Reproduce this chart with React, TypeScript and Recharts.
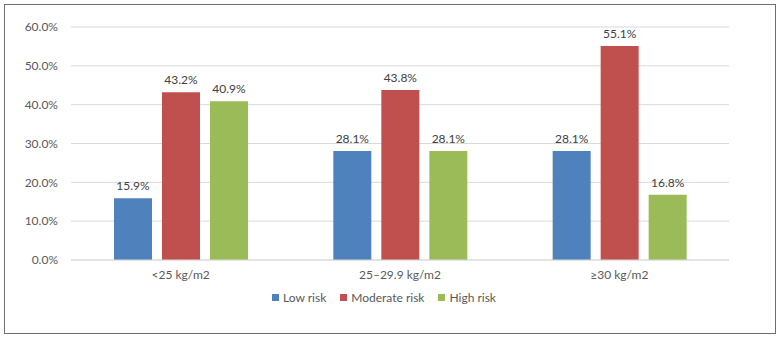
import { BarChart, Bar, XAxis, YAxis, CartesianGrid, LabelList } from 'recharts';

const categories = ['<25 kg/m2', '25–29.9 kg/m2', '≥30 kg/m2'];
const lowRisk = [15.9, 28.1, 28.1];
const moderateRisk = [43.2, 43.8, 55.1];
const highRisk = [40.9, 28.1, 16.8];
const yTicks = [0, 10, 20, 30, 40, 50, 60];

const series = [
  { key: 'low', name: 'Low risk', color: '#4F81BD' },
  { key: 'moderate', name: 'Moderate risk', color: '#C0504D' },
  { key: 'high', name: 'High risk', color: '#9BBB59' },
];

const data = categories.map((c, i) => ({
  category: c,
  low: lowRisk[i],
  moderate: moderateRisk[i],
  high: highRisk[i],
}));

const FONT = 'Lato, "Open Sans", sans-serif';
const pct = (v: number) => `${v.toFixed(1)}%`;

export default function App() {
  return (
    <div style={{ position: 'absolute', left: 0, top: 0, width: 783, height: 340, background: '#fff', fontFamily: FONT }}>
      {/* outer frame */}
      <div
        style={{
          position: 'absolute',
          left: 4,
          top: 4,
          width: 770,
          height: 328,
          border: '1.5px solid #6e6e6e',
        }}
      />
      <div style={{ position: 'absolute', left: 0, top: 0 }}>
        <BarChart
          width={783}
          height={340}
          data={data}
          margin={{ top: 27, right: 54, left: 8, bottom: 50 }}
          barSize={38}
          barGap={10}
        >
          <CartesianGrid vertical={false} stroke="#d9d9d9" />
          <XAxis
            dataKey="category"
            axisLine={{ stroke: '#d9d9d9' }}
            tickLine={false}
            tickMargin={4}
            height={30}
            tick={{ fill: '#595959', fontSize: 12, fontFamily: FONT }}
          />
          <YAxis
            width={63}
            domain={[0, 60]}
            ticks={yTicks}
            tickFormatter={pct}
            axisLine={false}
            tickLine={false}
            tickMargin={7}
            tick={{ fill: '#595959', fontSize: 12, fontFamily: FONT }}
          />
          {series.map(s => (
            <Bar key={s.key} dataKey={s.key} name={s.name} fill={s.color} isAnimationActive={false}>
              <LabelList
                dataKey={s.key}
                position="top"
                offset={8}
                formatter={(v: any) => pct(Number(v))}
                style={{ fill: '#404040', fontSize: 12, fontFamily: FONT }}
              />
            </Bar>
          ))}
        </BarChart>
      </div>
      {/* legend */}
      <div
        style={{
          position: 'absolute',
          left: 0,
          width: 768,
          top: 290,
          display: 'flex',
          justifyContent: 'center',
          gap: 14,
          fontSize: 12,
          color: '#595959',
        }}
      >
        {series.map(s => (
          <div key={s.key} style={{ display: 'flex', alignItems: 'center', gap: 4 }}>
            <span style={{ display: 'inline-block', width: 7, height: 7, background: s.color }} />
            <span>{s.name}</span>
          </div>
        ))}
      </div>
    </div>
  );
}
